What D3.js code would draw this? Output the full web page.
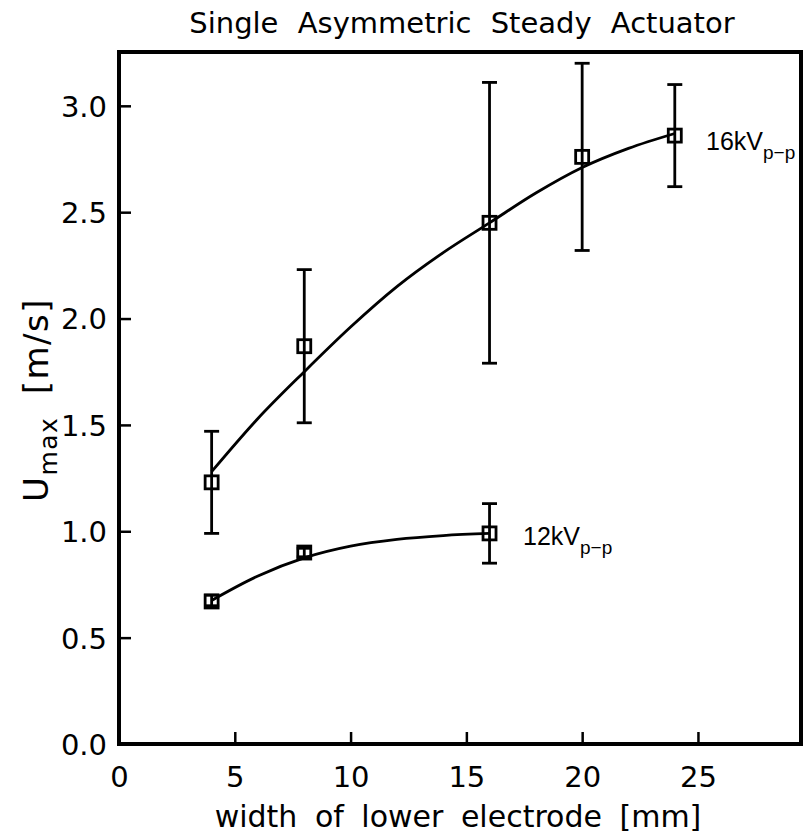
<!DOCTYPE html>
<html>
<head>
<meta charset="utf-8">
<script src="https://cdn.jsdelivr.net/npm/d3@7"></script>
<style>
  body { margin: 0; background: #fff; }
  svg { display: block; }
  text { font-family: "DejaVu Sans", "Liberation Sans", sans-serif; fill: #000; }
  text.series { font-family: "Liberation Sans", Arial, sans-serif; }
</style>
</head>
<body>
<div id="chart"></div>
<script>
// electrode widths [mm]
var widths16 = [4, 8, 16, 20, 24];
var umax16 = [1.23, 1.87, 2.45, 2.76, 2.86];
var errLow16 = [0.99, 1.51, 1.79, 2.32, 2.62];
var errHigh16 = [1.47, 2.23, 3.11, 3.20, 3.10];

var widths12 = [4, 8, 16];
var umax12 = [0.67, 0.90, 0.99];
var errLow12 = [0.65, 0.88, 0.85];
var errHigh12 = [0.70, 0.92, 1.13];

// fitted curves
var fitX16 = [4, 6, 8, 10, 12, 14, 16, 18, 20, 22, 24];
var fitY16 = [1.28, 1.53, 1.75, 1.96, 2.15, 2.31, 2.45, 2.59, 2.71, 2.80, 2.87];
var fitX12 = [4, 6, 8, 10, 12, 14, 16];
var fitY12 = [0.675, 0.79, 0.875, 0.93, 0.962, 0.98, 0.99];

var xTicks = [0, 5, 10, 15, 20, 25];
var yTicks = [0, 0.5, 1.0, 1.5, 2.0, 2.5, 3.0];

var width = 803, height = 840;
var margin = { top: 52, right: 2, bottom: 96, left: 119 };

var svg = d3.select('#chart').append('svg')
    .attr('width', width)
    .attr('height', height);

var x = d3.scaleLinear().domain([0, 29.45]).range([margin.left, width - margin.right]);
var y = d3.scaleLinear().domain([0, 3.253]).range([height - margin.bottom, margin.top]);

// axes with inward ticks
var xAxis = svg.append('g')
    .attr('transform', `translate(0, ${height - margin.bottom})`)
    .call(d3.axisBottom(x).tickValues(xTicks).tickSize(-12).tickPadding(22).tickFormat(d3.format('d')));
var yAxis = svg.append('g')
    .attr('transform', `translate(${margin.left}, 0)`)
    .call(d3.axisLeft(y).tickValues(yTicks).tickSize(-12).tickPadding(12).tickFormat(d3.format('.1f')));

[xAxis, yAxis].forEach(g => {
    g.select('.domain').remove();
    g.selectAll('.tick line').attr('stroke', '#000').attr('stroke-width', 2.5);
    g.selectAll('.tick text').attr('font-size', '29px');
});
yAxis.selectAll('.tick text').attr('dy', '0.36em');

// frame
svg.append('rect')
    .attr('x', margin.left)
    .attr('y', margin.top)
    .attr('width', width - margin.right - margin.left)
    .attr('height', height - margin.bottom - margin.top)
    .attr('fill', 'none')
    .attr('stroke', '#000')
    .attr('stroke-width', 4);

var line = d3.line().x(d => x(d[0])).y(d => y(d[1])).curve(d3.curveMonotoneX);

function drawSeries(xs, ys, lo, hi, fx, fy) {
    svg.append('path')
        .datum(d3.zip(fx, fy))
        .attr('d', line)
        .attr('fill', 'none')
        .attr('stroke', '#000')
        .attr('stroke-width', 2.8);

    var pts = xs.map((v, i) => ({ x: v, y: ys[i], lo: lo[i], hi: hi[i] }));
    var g = svg.append('g').attr('stroke', '#000').attr('stroke-width', 2.8).attr('fill', 'none');

    // error bars
    g.selectAll('line.bar').data(pts).join('line')
        .attr('x1', d => x(d.x)).attr('x2', d => x(d.x))
        .attr('y1', d => y(d.lo)).attr('y2', d => y(d.hi));
    g.selectAll('line.capHi').data(pts).join('line')
        .attr('x1', d => x(d.x) - 7.5).attr('x2', d => x(d.x) + 7.5)
        .attr('y1', d => y(d.hi)).attr('y2', d => y(d.hi));
    g.selectAll('line.capLo').data(pts).join('line')
        .attr('x1', d => x(d.x) - 7.5).attr('x2', d => x(d.x) + 7.5)
        .attr('y1', d => y(d.lo)).attr('y2', d => y(d.lo));

    // open squares
    g.selectAll('rect').data(pts).join('rect')
        .attr('x', d => x(d.x) - 6.5)
        .attr('y', d => y(d.y) - 6.5)
        .attr('width', 13)
        .attr('height', 13);
}

drawSeries(widths16, umax16, errLow16, errHigh16, fitX16, fitY16);
drawSeries(widths12, umax12, errLow12, errHigh12, fitX12, fitY12);

// series labels
function seriesLabel(px, py, main) {
    var t = svg.append('text').attr('class', 'series').attr('x', px).attr('y', py)
        .attr('font-size', '25px');
    t.append('tspan').text(main + 'V');
    t.append('tspan').attr('dy', 9).attr('font-size', '19px').text('p\u2212p');
}
seriesLabel(706, 150, '16k');
seriesLabel(523, 545, '12k');

// title
svg.append('text')
    .attr('x', 462)
    .attr('y', 33)
    .attr('text-anchor', 'middle')
    .attr('font-size', '29px')
    .attr('word-spacing', '10px')
    .text('Single Asymmetric Steady Actuator');

// x label
svg.append('text')
    .attr('x', 458)
    .attr('y', 827)
    .attr('text-anchor', 'middle')
    .attr('font-size', '30px')
    .attr('word-spacing', '8px')
    .text('width of lower electrode [mm]');

// y label
var yl = svg.append('text')
    .attr('transform', 'translate(48, 400) rotate(-90)')
    .attr('text-anchor', 'middle')
    .attr('font-size', '34px')
    .attr('letter-spacing', '1.5px')
    .attr('word-spacing', '10px');
yl.append('tspan').text('U');
yl.append('tspan').attr('dy', 9).attr('font-size', '25px').text('max');
yl.append('tspan').attr('dy', -9).text(' [m/s]');
</script>
</body>
</html>
